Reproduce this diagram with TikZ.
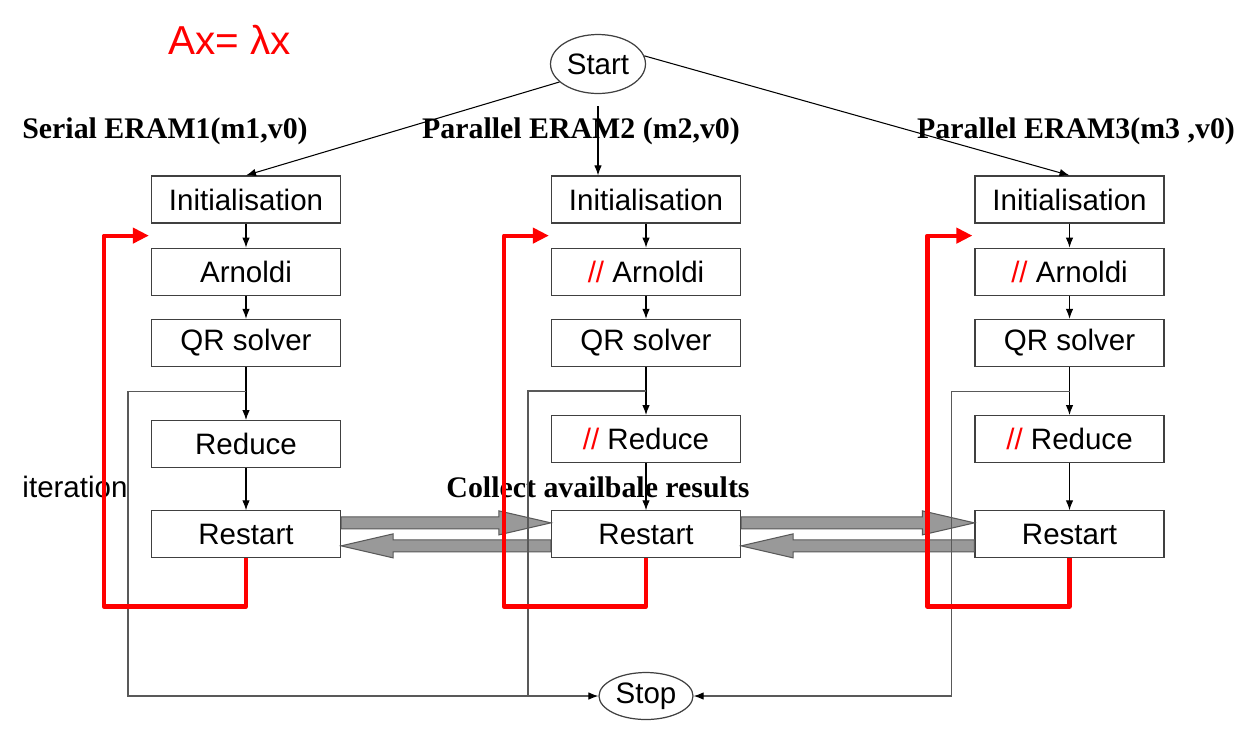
\documentclass[tikz,border=0pt]{standalone}
\usepackage{fontspec}
\setmainfont{Liberation Serif}
\setsansfont{Liberation Sans}
\usetikzlibrary{arrows.meta,positioning,calc,shapes.geometric}

% fat grey arrow between two named coordinates
\newcommand{\fatarrow}[2]{%
  \coordinate (fh) at ($(#2)!1.04cm!(#1)$);
  \filldraw[fatarr] ($(#1)!0.12cm!90:(#2)$) -- ($(fh)!0.12cm!-90:(#1)$)
    -- ($(fh)!0.24cm!-90:(#1)$) -- (#2) -- ($(fh)!0.24cm!90:(#1)$)
    -- ($(fh)!0.12cm!90:(#1)$) -- ($(#1)!0.12cm!-90:(#2)$) -- cycle;
}

\begin{document}
\begin{tikzpicture}[
  x=0.02cm, y=-0.02cm,
  font=\sffamily\fontsize{16.8}{20}\selectfont,
  box/.style={draw=black!75, line width=0.7pt, minimum width=3.78cm,
    minimum height=0.94cm, inner sep=2pt},
  oval/.style={ellipse, draw=black!75, line width=0.7pt, inner sep=0pt},
  hdr/.style={font=\rmfamily\bfseries\fontsize{17}{20}\selectfont},
  arr/.style={-{Latex[length=2mm, black]}, line width=0.6pt},
  redloop/.style={red, line width=2.4pt, line join=round,
    -{Triangle[length=3.2mm, width=3mm]}},
  stopline/.style={draw=black!65, line width=0.7pt},
  fatarr/.style={fill=black!40, draw=black!65, line width=0.6pt}
]
\useasboundingbox (0,0) rectangle (1256,731);

\node[text=red, font=\sffamily\fontsize{23}{26}\selectfont] (eq) at (230,40) {Ax= λx};
\node[oval, minimum width=1.9cm, minimum height=1.18cm] (start) at (598,64) {Start};
\node[oval, minimum width=1.88cm, minimum height=0.94cm] (stop) at (646,696) {Stop};

\node[hdr] (h1) at (165,131) {Serial ERAM1(m1,v0)};
\node[hdr] (h2) at (581,131) {Parallel ERAM2 (m2,v0)};
\node[hdr] (h3) at (1076,131) {Parallel ERAM3(m3 ,v0)};

% serial column
\node[box] (i1) at (246,199.5) {Initialisation};
\node[box, below=0.48cm of i1] (a1) {Arnoldi};
\node[box, below=0.46cm of a1] (q1) {QR solver};
\node[box, below=1.06cm of q1] (d1) {Reduce};
\node[box, below=0.84cm of d1] (r1) {Restart};

% parallel columns
\node[box] (i2) at (646,199.5) {Initialisation};
\node[box, below=0.48cm of i2] (a2) {\textcolor{red}{//} Arnoldi};
\node[box, below=0.46cm of a2] (q2) {QR solver};
\node[box, below=0.96cm of q2] (d2) {\textcolor{red}{//} Reduce};
\node[box, below=0.94cm of d2] (r2) {Restart};

\node[box] (i3) at (1069.5,199.5) {Initialisation};
\node[box, below=0.48cm of i3] (a3) {\textcolor{red}{//} Arnoldi};
\node[box, below=0.46cm of a3] (q3) {QR solver};
\node[box, below=0.96cm of q3] (d3) {\textcolor{red}{//} Reduce};
\node[box, below=0.94cm of d3] (r3) {Restart};

\node (it) at (75,487) {iteration};
\node[hdr] (coll) at (598,487) {Collect availbale results};

% exchange of results
\coordinate (u1a) at ([yshift=0.23cm]r1.east);
\coordinate (u1b) at ([yshift=0.23cm]r2.west);
\coordinate (l1a) at ([yshift=-0.23cm]r2.west);
\coordinate (l1b) at ([yshift=-0.23cm]r1.east);
\coordinate (u2a) at ([yshift=0.23cm]r2.east);
\coordinate (u2b) at ([yshift=0.23cm]r3.west);
\coordinate (l2a) at ([yshift=-0.23cm]r3.west);
\coordinate (l2b) at ([yshift=-0.23cm]r2.east);
\fatarrow{u1a}{u1b}
\fatarrow{l1a}{l1b}
\fatarrow{u2a}{u2b}
\fatarrow{l2a}{l2b}

\draw[arr] (start.205) -- (i1.north);
\draw[arr] ([yshift=-0.24cm]start.south) -- (start.south |- i2.north);
\draw[arr] (start.10) -- (i3.north);

\draw[arr] (i1) -- (a1);
\draw[arr] (a1) -- (q1);
\draw[arr] (q1) -- (d1);
\draw[arr] (d1) -- (r1);
\draw[arr] (i2) -- (a2);
\draw[arr] (a2) -- (q2);
\draw[arr] (q2) -- (d2);
\draw[arr] (d2) -- (r2);
\draw[arr] (i3) -- (a3);
\draw[arr] (a3) -- (q3);
\draw[arr] (q3) -- (d3);
\draw[arr] (d3) -- (r3);

% way out to stop
\coordinate (b1) at ([yshift=-0.48cm]q1.south);
\coordinate (b2) at ([yshift=-0.48cm]q2.south);
\coordinate (b3) at ([yshift=-0.48cm]q3.south);
\draw[stopline, arr] (b1) -- ++(-118,0) |- (stop.west);
\draw[stopline] (b2) -- ++(-118,0) coordinate (c2) -- (c2 |- stop.west);
\draw[stopline, arr] (b3) -- ++(-118,0) |- (stop.east);

% iteration loops
\coordinate (g1) at ($(i1.south west)!0.5!(a1.north west)+(-2,0)$);
\coordinate (g2) at ($(i2.south west)!0.5!(a2.north west)+(-2,0)$);
\coordinate (g3) at ($(i3.south west)!0.5!(a3.north west)+(-2,0)$);
\draw[redloop] (r1.south) -- ++(0,48) -| ($(g1)+(-45,0)$) -- (g1);
\draw[redloop] (r2.south) -- ++(0,48) -| ($(g2)+(-45,0)$) -- (g2);
\draw[redloop] (r3.south) -- ++(0,48) -| ($(g3)+(-45,0)$) -- (g3);
\end{tikzpicture}
\end{document}
